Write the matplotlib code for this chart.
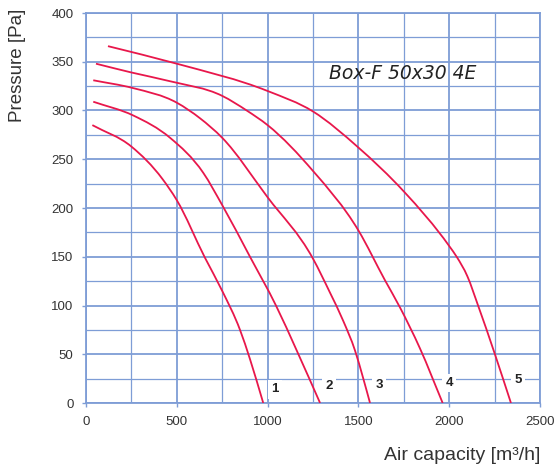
import matplotlib
matplotlib.use("Agg")
import matplotlib.pyplot as plt
from matplotlib.ticker import MultipleLocator
from matplotlib.path import Path
from matplotlib.patches import PathPatch

plt.rcParams['font.family'] = ['Liberation Sans', 'DejaVu Sans']

# Data
c1_x = [35, 250, 420, 500, 655, 750, 848, 903, 976]
c1_y = [285, 263, 230, 208, 149, 115, 75, 45, 0]

c2_x = [40, 259, 463, 646, 750, 903, 1046, 1160, 1289]
c2_y = [309, 295, 272, 236, 203, 150, 100, 54, 0]

c3_x = [40, 259, 500, 628, 750, 1000, 1250, 1344, 1417, 1481, 1527, 1564]
c3_y = [331, 323, 308, 292, 272, 211, 148, 113, 84, 54, 25, 0]

c4_x = [55, 250, 463, 750, 885, 1000, 1250, 1500, 1646, 1729, 1839, 1964]
c4_y = [348, 339, 330, 315, 300, 285, 238, 177, 126, 98, 56, 0]

c5_x = [121, 500, 1000, 1250, 1500, 1750, 2000, 2041, 2100, 2159, 2250, 2340]
c5_y = [366, 348, 320, 299, 262, 217, 161, 150, 130, 100, 51, 0]

curves = [(c1_x, c1_y), (c2_x, c2_y), (c3_x, c3_y), (c4_x, c4_y), (c5_x, c5_y)]

curve_labels = ["1", "2", "3", "4", "5"]
label_x = [1041, 1338, 1613, 1999, 2379]
label_y = [14, 17, 18.5, 20.5, 23.5]

x_ticks = [0, 500, 1000, 1500, 2000, 2500]
y_ticks = [0, 50, 100, 150, 200, 250, 300, 350, 400]

title = "Box-F 50x30 4E"

GRID = '#7e9dd6'
CURVE = '#e8174b'
TXT = '#333333'


def smooth_path(xs, ys):
    """Cubic Hermite Bezier path through the given points (3-point tangents)."""
    n = len(xs)
    h = [xs[i + 1] - xs[i] for i in range(n - 1)]
    d = [(ys[i + 1] - ys[i]) / h[i] for i in range(n - 1)]
    m = [0.0] * n
    m[0] = d[0]
    m[-1] = d[-1]
    for k in range(1, n - 1):
        m[k] = (h[k] * d[k - 1] + h[k - 1] * d[k]) / (h[k - 1] + h[k])
    verts = [(xs[0], ys[0])]
    codes = [Path.MOVETO]
    for i in range(n - 1):
        hh = h[i] / 3.0
        verts += [(xs[i] + hh, ys[i] + hh * m[i]),
                  (xs[i + 1] - hh, ys[i + 1] - hh * m[i + 1]),
                  (xs[i + 1], ys[i + 1])]
        codes += [Path.CURVE4] * 3
    return Path(verts, codes)


fig = plt.figure(figsize=(5.54, 4.69), dpi=100)
ax = fig.add_axes([86/554, 66/469, 454/554, 390/469])
ax.set_xlim(0, 2500)
ax.set_ylim(0, 400)

ax.xaxis.set_minor_locator(MultipleLocator(250))
ax.yaxis.set_minor_locator(MultipleLocator(25))
ax.set_xticks(x_ticks)
ax.set_yticks(y_ticks)
ax.grid(which='major', color=GRID, lw=1.3, zorder=0)
ax.grid(which='minor', color=GRID, lw=0.9, zorder=0)
ax.set_axisbelow(True)
for s in ax.spines.values():
    s.set_color(GRID)
    s.set_linewidth(1.3)
ax.tick_params(which='major', direction='out', length=3, width=1.0, color=GRID,
               labelcolor=TXT, labelsize=9.5, pad=6)
ax.tick_params(which='minor', length=0)

for x, y in curves:
    ax.add_patch(PathPatch(smooth_path(x, y), fill=False, edgecolor=CURVE,
                           lw=1.3, zorder=3, capstyle='butt'))

for t, x, y in zip(curve_labels, label_x, label_y):
    ax.text(x, y, t, ha='center', va='center', fontsize=9.5, fontweight='bold',
            color='#222222', zorder=4,
            bbox=dict(boxstyle='square,pad=0.25', fc='white', ec='none'))

ax.text(1745, 338, title, ha='center', va='center', fontsize=13.5,
        style='italic', family='DejaVu Sans', color='#222222', zorder=4)

fig.text(18/554, (469-65)/469, "Pressure [Pa]", rotation=90, ha='center', va='center',
         fontsize=13.5, color=TXT)
fig.text(540/554, (469-455)/469, "Air capacity [m³/h]", ha='right', va='center',
         fontsize=14, color=TXT)

fig.savefig("out.png", dpi=100)
